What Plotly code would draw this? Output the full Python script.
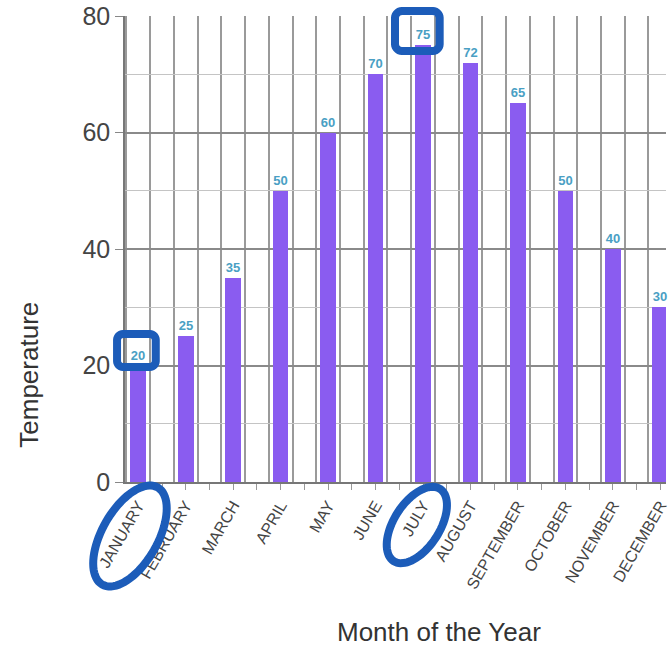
import numpy as np
import plotly.graph_objects as go

months = ["JANUARY", "FEBRUARY", "MARCH", "APRIL", "MAY", "JUNE", "JULY",
          "AUGUST", "SEPTEMBER", "OCTOBER", "NOVEMBER", "DECEMBER"]
temperatures = [20, 25, 35, 50, 60, 70, 75, 72, 65, 50, 40, 30]
y_ticks = [0, 20, 40, 60, 80]

W, H = 670, 646
L, R, T, B = 125, 670, 16, 482
FONT = "Liberation Sans, Arial, sans-serif"
INK = "#1c5cb9"


def paper(xp, yp):
    return (xp - L) / (R - L), (B - yp) / (B - T)


def path_from_pixels(pts, closed=True):
    parts = []
    for i, (xp, yp) in enumerate(pts):
        px_, py_ = paper(xp, yp)
        parts.append(("M" if i == 0 else "L") + f"{px_:.5f},{py_:.5f}")
    return " ".join(parts) + (" Z" if closed else "")


def ellipse_pts(cx, cy, a, b, ang_deg, n=80):
    t = np.linspace(0, 2 * np.pi, n, endpoint=False)
    th = np.deg2rad(ang_deg)
    xs = cx + a * np.cos(t) * np.cos(th) - b * np.sin(t) * np.sin(th)
    ys = cy - (a * np.cos(t) * np.sin(th) + b * np.sin(t) * np.cos(th))
    return list(zip(xs, ys))


def rounded_rect_pts(x0, y0, x1, y1, r, n=8):
    pts = []
    corners = [(x1 - r, y0 + r, -90, 0), (x1 - r, y1 - r, 0, 90),
               (x0 + r, y1 - r, 90, 180), (x0 + r, y0 + r, 180, 270)]
    for cx, cy, a0, a1 in corners:
        for a in np.linspace(np.deg2rad(a0), np.deg2rad(a1), n):
            pts.append((cx + r * np.cos(a), cy + r * np.sin(a)))
    return pts


x_pos = list(range(len(months)))
half_ticks = [i * 0.5 for i in range(0, 2 * len(months))]
half_text = [months[int(v)] if v == int(v) else "" for v in half_ticks]
grid_vals = [k + d for k in x_pos for d in (-0.25, 0.25)]

fig = go.Figure()
fig.add_trace(go.Bar(
    x=x_pos, y=temperatures, width=0.33,
    marker=dict(color="#8a5cf0", line=dict(width=0)),
    text=[f"<b>{v}</b>" for v in temperatures],
    textposition="outside", cliponaxis=False,
    textfont=dict(family=FONT, size=13, color="#4a9fc4"),
    hoverinfo="skip",
))

shapes = []
# hand-drawn highlights
shapes.append(dict(type="path", xref="paper", yref="paper",
                   path=path_from_pixels(rounded_rect_pts(397, 11, 442, 51, 7)),
                   line=dict(color=INK, width=8), layer="above"))
shapes.append(dict(type="path", xref="paper", yref="paper",
                   path=path_from_pixels(rounded_rect_pts(117, 334, 156, 367, 6)),
                   line=dict(color=INK, width=8), layer="above"))
shapes.append(dict(type="path", xref="paper", yref="paper",
                   path=path_from_pixels(ellipse_pts(130, 536, 56, 28, 60)),
                   line=dict(color=INK, width=8), layer="above"))
shapes.append(dict(type="path", xref="paper", yref="paper",
                   path=path_from_pixels(ellipse_pts(419, 525, 43, 23, 57)),
                   line=dict(color=INK, width=8), layer="above"))

ax_x, ax_y = paper(28, 375)
tx_x, tx_y = paper(441, 632)

fig.update_layout(
    width=W, height=H,
    margin=dict(l=L, r=W - R, t=T, b=H - B, pad=0),
    paper_bgcolor="white", plot_bgcolor="white",
    showlegend=False,
    font=dict(family=FONT, color="#444"),
    bargap=0,
    xaxis=dict(
        range=[-0.28, 11.12], tickmode="array", tickvals=half_ticks, ticktext=half_text,
        tickangle=-60, tickfont=dict(size=16, color="#444"),
        ticklabeloverflow="allow",
        ticks="outside", ticklen=6, tickcolor="#999", tickwidth=1,
        showgrid=False, zeroline=False,
        showline=True, linecolor="#777", linewidth=1.5,
        minor=dict(tickmode="array", tickvals=grid_vals, showgrid=True,
                   gridcolor="#9a9a9a", gridwidth=1.5, ticks=""),
    ),
    yaxis=dict(
        range=[0, 80], tickmode="array", tickvals=y_ticks,
        tickfont=dict(size=25, color="#444"),
        ticks="outside", ticklen=8, tickcolor="#888",
        showgrid=True, gridcolor="#8a8a8a", gridwidth=1.5,
        zeroline=False, showline=True, linecolor="#777", linewidth=1.5,
        minor=dict(dtick=10, showgrid=True, gridcolor="#c4c4c4", gridwidth=1.2, ticks=""),
    ),
    shapes=shapes,
    annotations=[
        dict(text="Temperature", xref="paper", yref="paper", x=ax_x, y=ax_y,
             textangle=-90, showarrow=False, xanchor="center", yanchor="middle",
             font=dict(size=26, color="#333", family=FONT)),
        dict(text="Month of the Year", xref="paper", yref="paper", x=tx_x, y=tx_y,
             showarrow=False, xanchor="center", yanchor="middle",
             font=dict(size=26, color="#333", family=FONT)),
    ],
)

fig.write_html("out.html")
